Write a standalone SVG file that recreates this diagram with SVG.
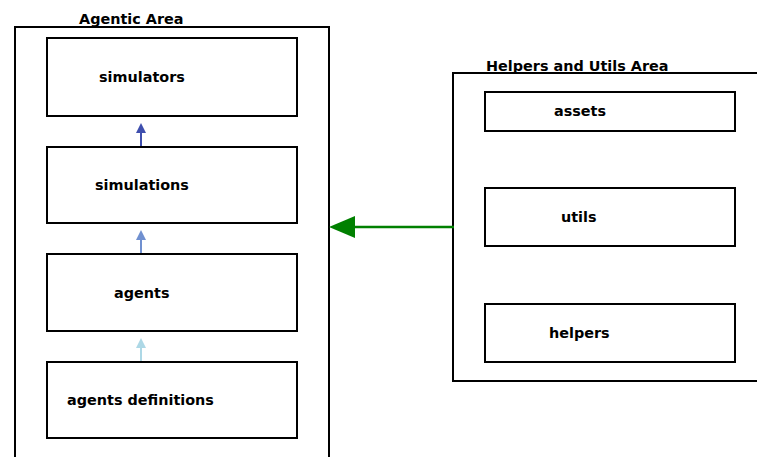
<svg xmlns="http://www.w3.org/2000/svg" width="757" height="457" viewBox="0 0 757 457">
<style>
.box{fill:#fff;stroke:#000;stroke-width:2}
.area{fill:none;stroke:#000;stroke-width:2}
text{font-family:"DejaVu Sans",sans-serif;font-weight:bold;font-size:14.4px;fill:#000}
</style>
<g id="agentic-area">
<rect class="area" x="15" y="27" width="314" height="431"/>
<text x="79" y="24">Agentic Area</text>
</g>
<g id="helpers-area">
<rect class="area" x="453" y="73" width="310" height="308"/>
<text x="486" y="71">Helpers and Utils Area</text>
</g>
<g id="simulators"><rect class="box" x="47" y="38" width="250" height="78"/><text x="99" y="82">simulators</text></g>
<g id="simulations"><rect class="box" x="47" y="147" width="250" height="76"/><text x="95" y="190">simulations</text></g>
<g id="agents"><rect class="box" x="47" y="254" width="250" height="77"/><text x="114" y="298">agents</text></g>
<g id="agents-definitions"><rect class="box" x="47" y="362" width="250" height="76"/><text x="67" y="405">agents definitions</text></g>
<g id="assets"><rect class="box" x="485" y="92" width="250" height="39"/><text x="554" y="116">assets</text></g>
<g id="utils"><rect class="box" x="485" y="188" width="250" height="58"/><text x="561" y="222">utils</text></g>
<g id="helpers"><rect class="box" x="485" y="304" width="250" height="58"/><text x="549" y="338">helpers</text></g>
<g id="connectors">
<line x1="141" y1="146" x2="141" y2="130" stroke="#3f4fae" stroke-width="2"/>
<path d="M136,133 L141,123 L146,133 z" fill="#3f4fae"/>
<line x1="141" y1="253" x2="141" y2="237" stroke="#7090d0" stroke-width="2"/>
<path d="M136,240 L141,230 L146,240 z" fill="#7090d0"/>
<line x1="141" y1="361" x2="141" y2="345" stroke="#add8e6" stroke-width="2"/>
<path d="M136,348 L141,338 L146,348 z" fill="#add8e6"/>
<line x1="454" y1="227" x2="350" y2="227" stroke="#008000" stroke-width="2.5"/>
<path d="M355,216 L329,227 L355,238 z" fill="#008000"/>
</g>
</svg>
